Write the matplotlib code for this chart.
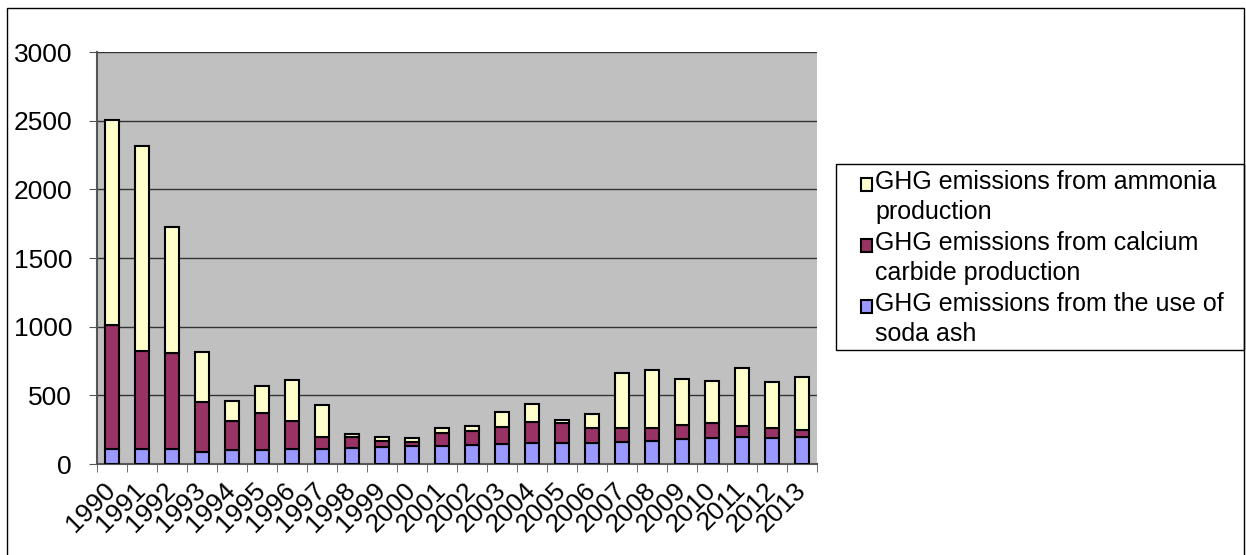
import matplotlib
matplotlib.use("Agg")
import matplotlib.pyplot as plt
from matplotlib.patches import Rectangle
from matplotlib.legend_handler import HandlerPatch
from matplotlib.container import BarContainer
import numpy as np

years = [str(y) for y in range(1990, 2014)]
soda_ash = [109, 109, 110, 85, 104, 104, 110, 110, 116, 121, 129, 129, 140, 148,
            150, 153, 155, 158, 169, 182, 191, 196, 187, 194]
calcium_carbide = [903, 714, 697, 363, 211, 264, 200, 88, 78, 49, 29, 96, 102, 119,
                   157, 145, 104, 106, 95, 101, 107, 82, 75, 55]
ammonia = [1493, 1490, 920, 371, 141, 197, 303, 229, 25, 28, 31, 34, 36, 109,
           127, 24, 102, 395, 424, 335, 305, 422, 332, 381]
labels = ["GHG emissions from ammonia\nproduction",
          "GHG emissions from calcium\ncarbide production",
          "GHG emissions from the use of\nsoda ash"]
yticks = [0, 500, 1000, 1500, 2000, 2500, 3000]

plt.rcParams['font.family'] = ['Liberation Sans', 'DejaVu Sans']

W, H = 1246, 555
fig = plt.figure(figsize=(W / 100, H / 100), dpi=100)
# outer border
fig.patches.append(plt.Rectangle((7 / W, -10 / H), 1237 / W, (H + 10 - 8) / H,
                                 transform=fig.transFigure,
                                 fill=False, edgecolor='black', linewidth=1))
# legend frame
fig.patches.append(plt.Rectangle((836 / W, 1 - 350 / H), 408 / W, 186 / H,
                                 transform=fig.transFigure,
                                 fill=False, edgecolor='black', linewidth=1))

ax = fig.add_axes([97 / W, 1 - 464 / H, 720 / W, 412 / H])
ax.set_facecolor('#C0C0C0')
x = np.arange(len(years))
w = 0.45
s = np.array(soda_ash)
c = np.array(calcium_carbide)
a = np.array(ammonia)
b1 = ax.bar(x, s, w, color='#9999FF', edgecolor='black', linewidth=1.5, zorder=3)
b2 = ax.bar(x, c, w, bottom=s, color='#993366', edgecolor='black', linewidth=1.5, zorder=3)
b3 = ax.bar(x, a, w, bottom=s + c, color='#FFFFCC', edgecolor='black', linewidth=1.5, zorder=3)

ax.set_xlim(-0.5, len(years) - 0.5)
ax.set_ylim(0, 3000)
ax.set_yticks(yticks)
ax.set_yticklabels([str(v) for v in yticks], fontsize=19)
ax.yaxis.grid(True, color='#333333', linewidth=1, zorder=1)
ax.set_axisbelow(True)

ax.set_xticks(x)
ax.set_xticklabels(years, rotation=45, ha='right', va='center', fontsize=19,
                   rotation_mode='anchor')
ax.tick_params(axis='x', length=0, pad=16)
ax.set_xticks(np.arange(-0.5, len(years), 1), minor=True)
ax.tick_params(axis='x', which='minor', length=6, color='#555555')
ax.tick_params(axis='y', length=6, color='#555555', pad=12)

for sp in ['top', 'right']:
    ax.spines[sp].set_visible(False)
ax.spines['left'].set_color('#555555')
ax.spines['bottom'].set_color('#555555')
ax.spines['left'].set_linewidth(1.5)
ax.spines['bottom'].set_linewidth(1.5)


def top_rect(legend, orig_handle, xdescent, ydescent, width, height, fontsize):
    return Rectangle((-xdescent, -ydescent + 9.5), width, height)


handles = [b3.patches[0], b2.patches[0], b1.patches[0]]
leg = fig.legend(handles, labels, loc='upper left',
                 bbox_to_anchor=(861 / W, 1 - 170 / H), fontsize=18,
                 frameon=False,
                 handlelength=0.45, handleheight=0.45, handletextpad=0.12,
                 borderpad=0, labelspacing=0.3, borderaxespad=0,
                 handler_map={Rectangle: HandlerPatch(patch_func=top_rect)})
for t in leg.get_texts():
    t.set_linespacing(1.3)

fig.savefig('out.png', dpi=100)
